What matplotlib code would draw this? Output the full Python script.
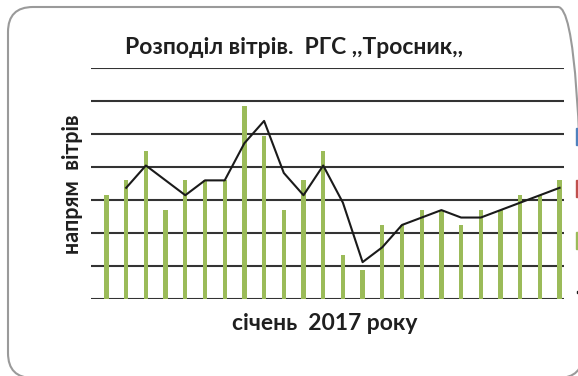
import numpy as np
import matplotlib.pyplot as plt
from matplotlib.patches import FancyBboxPatch, Rectangle

# wind direction (degrees) for each observation in January 2017
days = list(range(1, 25))
wind_dir = [157.5, 180, 225, 135, 180, 180, 180, 292.5, 247.5, 135, 180, 225,
            67.5, 45, 112.5, 112.5, 135, 135, 112.5, 135, 135, 157.5, 157.5, 180]

title = "Розподіл вітрів.  РГС ,,Тросник,,"
xlabel = "січень  2017 року"
ylabel = "напрям  вітрів"

bar_color = "#9BBB59"
legend_colors = ["#4F81BD", "#C0504D", "#9BBB59"]

plt.rcParams["font.family"] = ["Lato", "DejaVu Sans"]

fig = plt.figure(figsize=(5.78, 3.76), dpi=100)
ax = fig.add_axes([0.158, 0.204, 0.818, 0.615])

x = np.arange(len(days)) + 0.27
ax.bar(x, wind_dir, width=0.22, color=bar_color, zorder=3)

# two-period moving average trend
ma = (np.array(wind_dir[1:]) + np.array(wind_dir[:-1])) / 2
ax.plot(x[1:], ma, color="#1a1a1a", lw=1.5, zorder=4)

ax.set_xlim(-0.5, len(days) - 0.5)
ax.set_ylim(0, 350)
ax.set_yticks(np.arange(0, 351, 50))
ax.yaxis.grid(True, color="#333333", lw=1.5)
ax.set_axisbelow(True)
ax.tick_params(left=False, bottom=False, labelleft=False, labelbottom=False)
for s in ax.spines.values():
    s.set_visible(False)

fig.text(0.508, 0.873, title, ha="center", va="center",
         fontsize=16.5, fontweight="bold", color="#1f1f1f")
fig.text(0.562, 0.14, xlabel, ha="center", va="center",
         fontsize=16.5, fontweight="bold", color="#1f1f1f")
fig.text(0.126, 0.51, ylabel, ha="center", va="center", rotation=90,
         fontsize=15.5, fontweight="bold", color="#1f1f1f")

# rounded chart frame
frame = FancyBboxPatch((0.08, -0.02), 5.75, 3.71,
                       boxstyle="round,pad=0,rounding_size=0.25",
                       transform=fig.dpi_scale_trans, fill=False,
                       edgecolor="#9a9a9a", lw=1.5)
fig.patches.append(frame)

# legend keys cut by the right edge
for c, ytop in zip(legend_colors, [128, 180, 232]):
    fig.patches.append(Rectangle((5.76, (376 - ytop - 17) / 100), 0.1, 0.17,
                                 transform=fig.dpi_scale_trans, color=c))
fig.patches.append(Rectangle((5.765, (376 - 292.5) / 100), 0.1, 0.012,
                             transform=fig.dpi_scale_trans, color="#1a1a1a"))

fig.savefig("out.png", dpi=100)
